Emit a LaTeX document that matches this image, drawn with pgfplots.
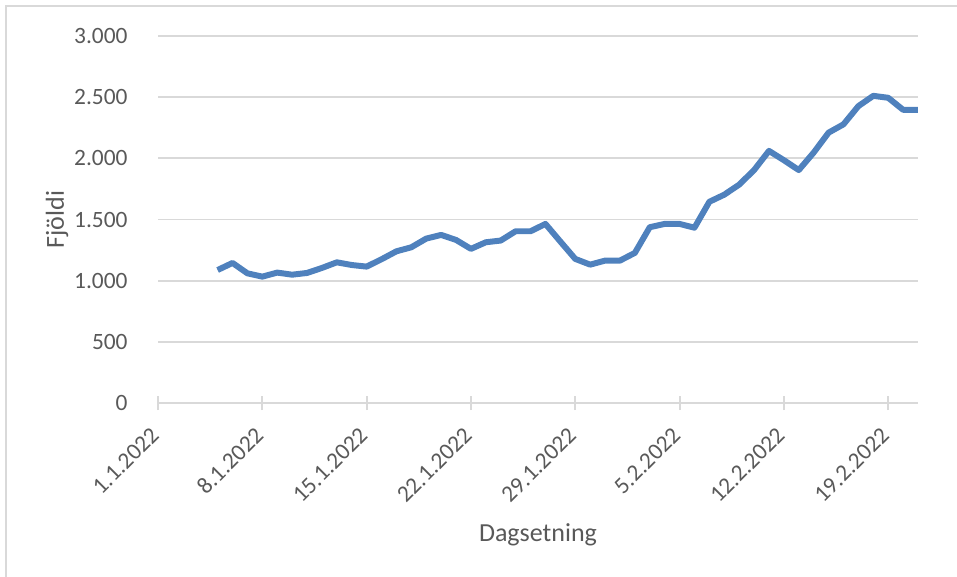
\documentclass[border=0pt]{standalone}
\usepackage{pgfplots}
\pgfplotsset{compat=1.18}
\usepackage{fontspec}
\setmainfont{Carlito}
\definecolor{lineblue}{HTML}{4F81BD}
\definecolor{gridgray}{HTML}{D9D9D9}
\definecolor{txtgray}{HTML}{595959}
\begin{document}
\begin{tikzpicture}
\begin{axis}[
  scale only axis,
  width=292.3pt, height=141.15pt,
  xmin=0, xmax=51, ymin=0, ymax=3000,
  clip=false,
  axis x line*=bottom,
  axis y line*=left,
  x axis line style={draw=gridgray, line width=0.75pt, -},
  y axis line style={draw=none},
  xtick={0,7,14,21,28,35,42,49},
  xticklabels={1.1.2022,8.1.2022,15.1.2022,22.1.2022,29.1.2022,5.2.2022,12.2.2022,19.2.2022},
  xtick style={draw=gridgray, line width=0.75pt},
  ytick style={draw=none},
  tick align=center,
  major tick length=5.4pt,
  ytick={0,500,...,3000},
  ymajorgrids,
  grid style={draw=gridgray, line width=0.75pt},
  /pgf/number format/assume math mode=true,
  /pgf/number format/1000 sep={.},
  tick label style={font=\fontsize{9}{11}\selectfont, text=txtgray},
  yticklabel style={anchor=east, inner sep=0pt, xshift=-8.8pt},
  xticklabel style={inner sep=0pt, xshift=-1.05pt, yshift=-8.1pt, rotate=45, anchor=east},
  xlabel={Dagsetning},
  ylabel={Fjöldi},
  label style={font=\fontsize{10}{12}\selectfont, text=txtgray},
  xlabel style={at={(axis description cs:0.5,-0.3597)}, anchor=center},
  ylabel style={at={(axis description cs:-0.1327,0.5)}, anchor=center},
]
\addplot[color=lineblue, line width=2.3pt, line join=round] coordinates {
(4,1087) (5,1145) (6,1060) (7,1033) (8,1066) (9,1049) (10,1063) (11,1104)
(12,1150) (13,1128) (14,1115) (15,1175) (16,1240) (17,1273) (18,1344) (19,1374)
(20,1333) (21,1260) (22,1314) (23,1328) (24,1404) (25,1404) (26,1464) (27,1320)
(28,1178) (29,1131) (30,1164) (31,1164) (32,1227) (33,1437) (34,1464) (35,1464)
(36,1433) (37,1645) (38,1703) (39,1785) (40,1904) (41,2061) (42,1985) (43,1904)
(44,2047) (45,2210) (46,2278) (47,2427) (48,2511) (49,2495) (50,2397) (51,2397)
};
\end{axis}
\pgfresetboundingbox
\useasboundingbox (-60.77pt,-66.92pt) rectangle (307.31pt,155pt);
\draw[color=gridgray, line width=0.75pt] (-58.46pt,-66.92pt) -- (-58.46pt,152.7pt) -- (307.31pt,152.7pt);
\end{tikzpicture}
\end{document}
